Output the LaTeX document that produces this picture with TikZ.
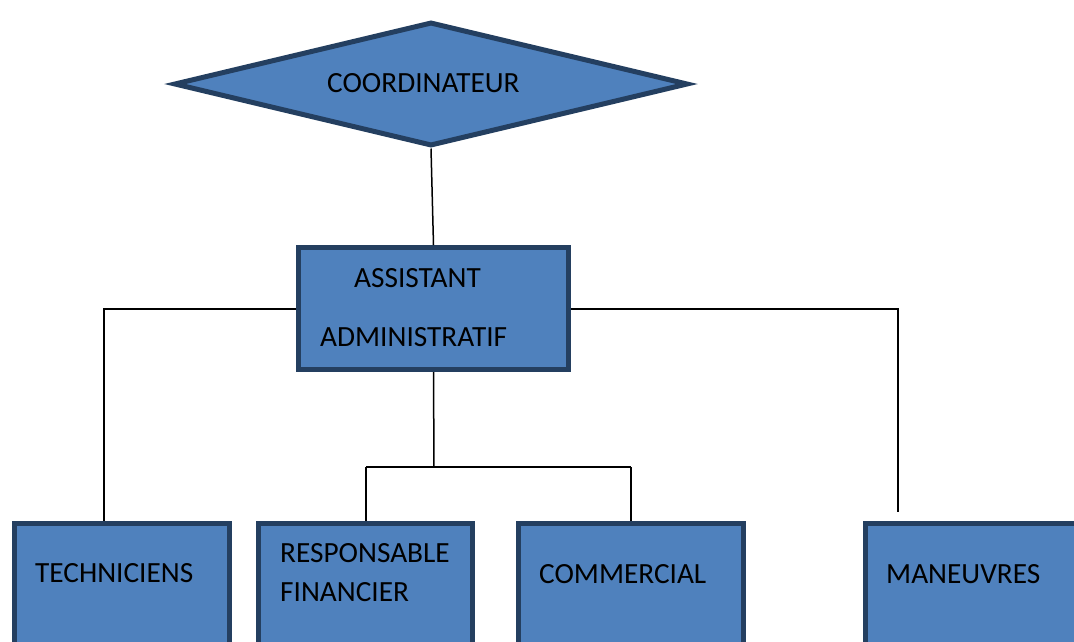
\documentclass[tikz,border=0pt]{standalone}
\usepackage{fontspec}
\setmainfont{Carlito}
\usetikzlibrary{shapes.geometric}
\definecolor{boxfill}{HTML}{4F81BD}
\definecolor{boxline}{HTML}{243F60}
\begin{document}
\begin{tikzpicture}[x=1pt,y=-1pt,
  box/.style={draw=boxline,fill=boxfill,line width=5pt,rectangle,inner sep=0pt},
  lbl/.style={anchor=west,inner sep=0pt,font=\fontsize{29.3}{35}\selectfont,text=black},
  wire/.style={draw=black,line width=1.5pt}]
\useasboundingbox (0,0) rectangle (1074,641);
\clip (0,0) rectangle (1074,641);
\fill[white] (0,0) rectangle (1074,641);
% coordinator diamond
\node[draw=boxline,fill=boxfill,line width=5pt,diamond,aspect=4.2,inner sep=0pt,
      minimum width=514pt,minimum height=124pt] (coord) at (431,84) {};
\node[lbl] (coordt) at (327,83) {COORDINATEUR};
% assistant
\node[box,minimum width=270pt,minimum height=122pt] (asst) at (433.5,308.5) {};
\node[lbl] (asst1) at (354,278) {ASSISTANT};
\node[lbl] (asst2) at (320,337) {ADMINISTRATIF};
% bottom boxes
\node[box,minimum width=215pt,minimum height=176pt] (tech) at (122,611.5) {};
\node[lbl] (techt) at (35,573) {TECHNICIENS};
\node[box,minimum width=214pt,minimum height=176pt] (resp) at (365.5,611.5) {};
\node[lbl] (resp1) at (280,553) {RESPONSABLE};
\node[lbl] (resp2) at (280,592) {FINANCIER};
\node[box,minimum width=225pt,minimum height=176pt] (comm) at (631,611.5) {};
\node[lbl] (commt) at (539,574) {COMMERCIAL};
\node[box,minimum width=220pt,minimum height=176pt] (man) at (975,611.5) {};
\node[lbl] (mant) at (886,574) {MANEUVRES};
% connectors
\coordinate (tl) at (104,309);
\coordinate (mr) at (898,309);
\coordinate (mend) at (898,512);
\coordinate (jc) at (434,467);
\coordinate (jl) at (366,467);
\coordinate (jr) at (631,467);
\draw[wire] (coord.south) -- (asst.north);
\draw[wire] (asst.west |- tl) -- (tl) -- (tl |- tech.north);
\draw[wire] (asst.east |- mr) -- (mr) -- (mend);
\draw[wire] (asst.south) -- (jc);
\draw[wire] (jl) -- (jr);
\draw[wire] (jl) -- (jl |- resp.north);
\draw[wire] (jr) -- (comm.north);
\end{tikzpicture}
\end{document}
